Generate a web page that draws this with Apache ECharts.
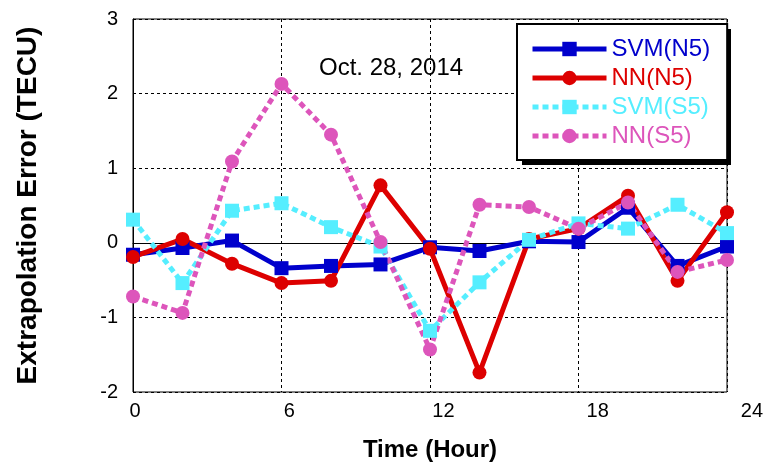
<!DOCTYPE html>
<html>
<head>
<meta charset="utf-8">
<script src="https://cdn.jsdelivr.net/npm/echarts@6/dist/echarts.min.js"></script>
<style>
  html, body { margin: 0; padding: 0; background: #fff; }
  #chart { width: 766px; height: 468px; }
</style>
</head>
<body>
<div id="chart"></div>
<script>
// hours of the day (x) and extrapolation errors in TECU
const hours = [0, 2, 4, 6, 8, 10, 12, 14, 16, 18, 20, 22, 24];
const svmN5 = [-0.16, -0.07, 0.03, -0.34, -0.31, -0.29, -0.06, -0.11, 0.02, 0.01, 0.47, -0.31, -0.05];
const nnN5 = [-0.19, 0.05, -0.28, -0.54, -0.51, 0.77, -0.08, -1.74, 0.05, 0.19, 0.63, -0.51, 0.41];
const svmS5 = [0.31, -0.54, 0.43, 0.53, 0.21, -0.05, -1.18, -0.53, 0.04, 0.26, 0.19, 0.51, 0.13];
const nnS5 = [-0.72, -0.94, 1.09, 2.13, 1.45, 0.01, -1.43, 0.51, 0.48, 0.19, 0.54, -0.39, -0.23];
const xTicks = [0, 6, 12, 18, 24];

const font = 'Liberation Sans, Arial, sans-serif';

function pairs (ys) {
  return hours.map((h, i) => [h, ys[i]]);
}

function makeSeries (name, ys, color, symbol, dashed) {
  return {
    name: name,
    type: 'line',
    xAxisIndex: 0,
    yAxisIndex: 0,
    data: pairs(ys),
    symbol: symbol,
    symbolSize: 14,
    showSymbol: true,
    animation: false,
    itemStyle: { color: color },
    lineStyle: {
      color: color,
      width: 5,
      type: dashed ? [6, 4] : 'solid'
    }
  };
}

const chart = echarts.init(document.getElementById('chart'));

const option = {
  backgroundColor: '#fff',
  animation: false,
  title: {
    text: 'Oct. 28, 2014',
    left: 314,
    top: 51,
    textStyle: { fontFamily: font, fontSize: 24, fontWeight: 'normal', color: '#000' }
  },
  // drop shadow of the legend box
  graphic: [{
    type: 'rect',
    z: 5,
    shape: { x: 522, y: 29, width: 209, height: 136 },
    style: { fill: '#000' },
    silent: true
  }],
  legend: {
    orient: 'vertical',
    left: 517,
    top: 24,
    z: 10,
    padding: [13, 17, 12, 13],
    itemGap: 5,
    itemWidth: 74,
    itemHeight: 18,
    backgroundColor: '#fff',
    borderColor: '#000',
    borderWidth: 2,
    lineStyle: { width: 5 },
    textStyle: { fontFamily: font, fontSize: 24 },
    data: [
      { name: 'SVM(N5)', textStyle: { color: '#0000cc' } },
      { name: 'NN(N5)', textStyle: { color: '#dd0000' } },
      { name: 'SVM(S5)', textStyle: { color: '#55eeff' } },
      { name: 'NN(S5)', textStyle: { color: '#dd55bb' } }
    ]
  },
  grid: [
    { left: 133, right: 39, top: 19, bottom: 76, show: true, borderColor: '#000', borderWidth: 1 },
    // tick labels of the time axis sit on a slightly wider scale in the original
    { left: 135, right: 14, top: 19, bottom: 76, show: false }
  ],
  xAxis: [
    {
      type: 'value',
      gridIndex: 0,
      min: 0,
      max: 24,
      interval: 6,
      name: 'Time (Hour)',
      nameLocation: 'middle',
      nameGap: 46,
      nameTextStyle: { fontFamily: font, fontSize: 24, fontWeight: 'bold', color: '#000' },
      axisLine: { lineStyle: { color: '#000', width: 1 } },
      axisTick: { show: false },
      axisLabel: { show: false },
      splitLine: { lineStyle: { color: '#000', width: 1, type: [3, 3] } }
    },
    {
      type: 'value',
      gridIndex: 1,
      min: 0,
      max: 24,
      interval: 6,
      axisLine: { show: false },
      axisTick: { show: false },
      splitLine: { show: false },
      axisLabel: {
        margin: 9,
        fontFamily: font,
        fontSize: 20,
        color: '#000',
        formatter: v => xTicks.indexOf(v) >= 0 ? String(v) : ''
      }
    }
  ],
  yAxis: [
    {
      type: 'value',
      gridIndex: 0,
      min: -2,
      max: 3,
      interval: 1,
      name: 'Extrapolation Error (TECU)',
      nameLocation: 'middle',
      nameGap: 91,
      nameTextStyle: { fontFamily: font, fontSize: 28, fontWeight: 'bold', color: '#000' },
      axisLine: { show: true, lineStyle: { color: '#000', width: 1 } },
      axisTick: { show: false },
      axisLabel: { margin: 15, fontFamily: font, fontSize: 20, color: '#000' },
      splitLine: { lineStyle: { color: '#000', width: 1, type: [3, 3] } }
    },
    {
      type: 'value',
      gridIndex: 1,
      min: -2,
      max: 3,
      show: false
    }
  ],
  series: [
    makeSeries('SVM(N5)', svmN5, '#0000cc', 'rect', false),
    makeSeries('NN(N5)', nnN5, '#dd0000', 'circle', false),
    makeSeries('SVM(S5)', svmS5, '#55eeff', 'rect', true),
    makeSeries('NN(S5)', nnS5, '#dd55bb', 'circle', true)
  ]
};

chart.setOption(option);
</script>
</body>
</html>
